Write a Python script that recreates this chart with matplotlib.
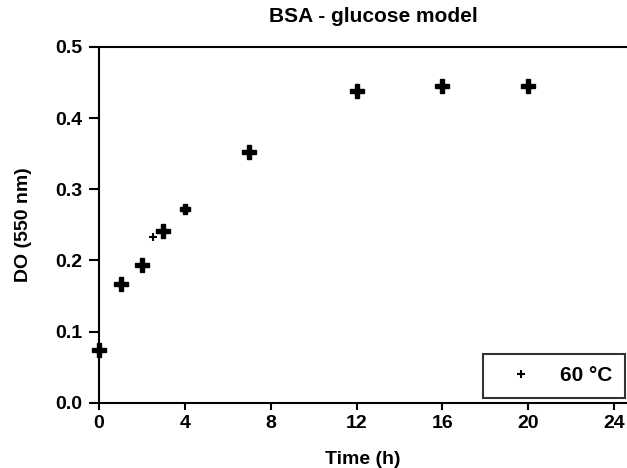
import matplotlib.pyplot as plt

plt.rcParams['font.family'] = ['Liberation Sans', 'DejaVu Sans']
plt.rcParams['font.weight'] = 'bold'

# data
time_main = [0, 1, 2, 3, 7, 12, 16, 20]
do_main = [0.074, 0.167, 0.194, 0.241, 0.352, 0.438, 0.445, 0.445]
time_small = [2.5, 4]
do_small = [0.233, 0.272]

fig = plt.figure(figsize=(6.27, 4.68), dpi=100)
ax = fig.add_axes([0.158, 0.139, 0.842, 0.761])

ax.plot(time_main, do_main, 'P', color='black', markersize=9.5, mew=1.0, ls='none', clip_on=False)
ax.plot(time_small[:1], do_small[:1], '+', color='black', markersize=6, mew=1.5, ls='none',
        label='60 °C')
ax.plot(time_small[1:], do_small[1:], 'P', color='black', markersize=7, ls='none')

ax.set_xlim(0, 24.6)
ax.set_ylim(0, 0.5)
ax.set_xticks([0, 4, 8, 12, 16, 20, 24])
ax.set_yticks([0, 0.1, 0.2, 0.3, 0.4, 0.5])
ax.set_yticklabels(['0.0', '0.1', '0.2', '0.3', '0.4', '0.5'])
ax.spines['right'].set_visible(False)
for s in ['left', 'bottom', 'top']:
    ax.spines[s].set_linewidth(1.5)
ax.tick_params(direction='out', width=1.5, labelsize=14)
ax.tick_params(axis='y', length=7, pad=5)
ax.tick_params(axis='x', length=5, pad=4)
ax.set_xlabel('Time (h)', fontsize=14, fontweight='bold', labelpad=13)
ax.set_ylabel('DO (550 nm)', fontsize=14, fontweight='bold', labelpad=17)
ax.set_title('BSA - glucose model', fontsize=15, fontweight='bold', pad=18, x=0.52)

leg = ax.legend(loc='lower right', bbox_to_anchor=(0.996, 0.014), fontsize=15,
                frameon=True, fancybox=False, edgecolor='black', handlelength=2.5,
                handletextpad=0.6, borderpad=0.6, borderaxespad=0)
leg.get_frame().set_linewidth(1.5)

plt.savefig('out.png', dpi=100)
